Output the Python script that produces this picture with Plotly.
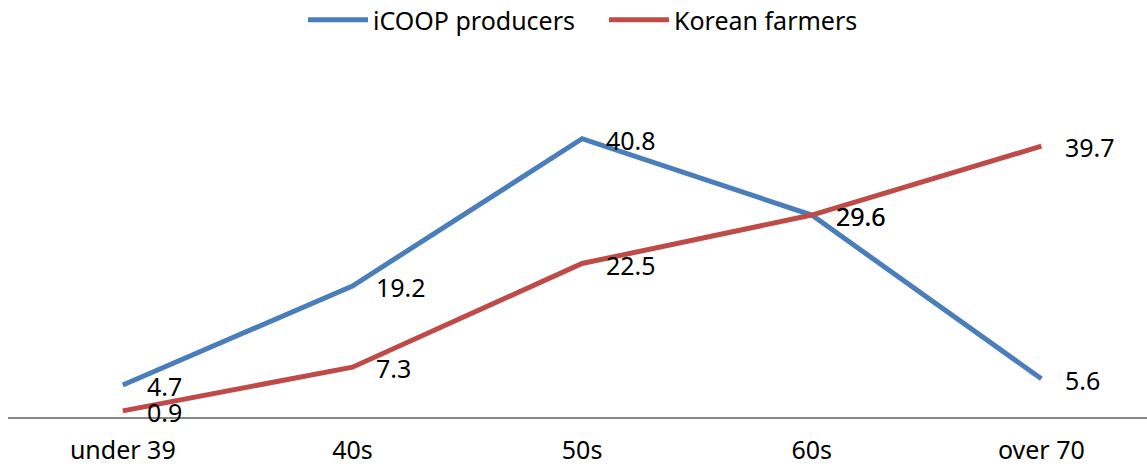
import plotly.graph_objects as go

categories = ["under 39", "40s", "50s", "60s", "over 70"]
icoop = [4.7, 19.2, 40.8, 29.6, 5.6]
korean = [0.9, 7.3, 22.5, 29.6, 39.7]
series_names = ["iCOOP producers", "Korean farmers"]
colors = ["#4A7EBB", "#BE4B48"]

FONT = "Noto Sans"

fig = go.Figure()
for name, vals, col in zip(series_names, [icoop, korean], colors):
    fig.add_trace(go.Scatter(x=categories, y=vals, mode="lines", name=name,
                             line=dict(color=col, width=5)))
    for c, v in zip(categories, vals):
        fig.add_annotation(x=c, y=v, text=f"{v:.1f}", showarrow=False,
                           xanchor="left", yanchor="middle", xshift=22, yshift=-1,
                           font=dict(family=FONT, size=25, color="#000000"))

fig.update_layout(
    width=1147, height=466,
    margin=dict(l=8, r=0, t=110, b=46),
    paper_bgcolor="white", plot_bgcolor="white",
    showlegend=True,
    legend=dict(orientation="h", x=303/1147, xanchor="left", xref="container",
                y=1 - 20/466, yanchor="middle", yref="container",
                font=dict(family=FONT, size=25, color="#000000"),
                itemwidth=60, entrywidth=226, tracegroupgap=0),
    xaxis=dict(range=[-0.5, 4.46], showgrid=False, zeroline=False,
               showline=True, linecolor="#888888", linewidth=1.5,
               ticks="", ticklabelstandoff=10,
               tickfont=dict(family=FONT, size=25, color="#000000")),
    yaxis=dict(range=[0, 45], visible=False, showgrid=False, zeroline=False),
)

fig.write_html("out.html")
